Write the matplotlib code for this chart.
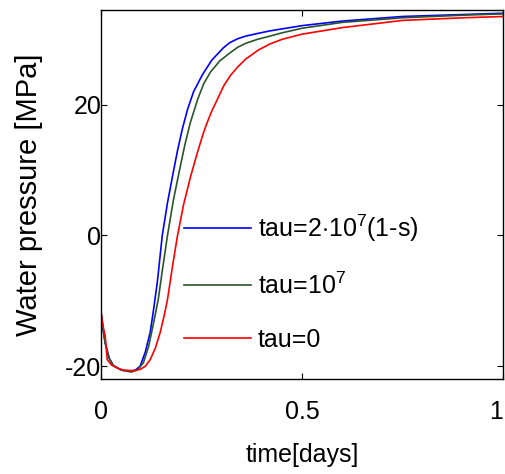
import matplotlib
matplotlib.use('Agg')
import matplotlib.pyplot as plt

plt.rcParams['font.family'] = ['Liberation Sans', 'DejaVu Sans']
plt.rcParams['mathtext.fontset'] = 'custom'
plt.rcParams['mathtext.rm'] = 'Liberation Sans'
plt.rcParams['axes.unicode_minus'] = False

# tau = 2e7 (1-s)
t_blue = [0, 0.005, 0.01, 0.02, 0.03, 0.05, 0.07, 0.085, 0.097, 0.11, 0.122, 0.13, 0.14,
          0.152, 0.165, 0.177, 0.19, 0.202, 0.215, 0.23, 0.252, 0.275, 0.304, 0.32, 0.34,
          0.36, 0.389, 0.42, 0.45, 0.5, 0.6, 0.75, 0.9, 1.0]
p_blue = [-12, -14.5, -16.5, -18.8, -19.9, -20.6, -20.8, -20.6, -20, -17.8, -14.8, -11.5, -7,
          0, 5, 8.9, 13, 16.3, 19.3, 22, 24.6, 26.8, 28.7, 29.5, 30.1,
          30.5, 30.9, 31.3, 31.6, 32.1, 32.8, 33.5, 33.8, 34.0]

# tau = 1e7
t_green = [0, 0.005, 0.01, 0.02, 0.03, 0.05, 0.075, 0.09, 0.105, 0.118, 0.13, 0.142, 0.153,
           0.165, 0.18, 0.195, 0.208, 0.222, 0.24, 0.255, 0.272, 0.295, 0.322, 0.34, 0.36,
           0.389, 0.42, 0.45, 0.5, 0.6, 0.75, 0.9, 1.0]
p_green = [-12, -14.5, -16.5, -18.8, -19.9, -20.6, -20.9, -20.6, -19.5, -17, -13.5, -9.8, -5,
           0, 5.5, 10, 13.8, 17.3, 20.8, 23.2, 25, 26.7, 28, 28.8, 29.4,
           30, 30.5, 31, 31.7, 32.6, 33.3, 33.7, 33.9]

# tau = 0
t_red = [0, 0.005, 0.01, 0.015, 0.025, 0.04, 0.055, 0.08, 0.097, 0.11, 0.122, 0.135, 0.147,
         0.157, 0.165, 0.178, 0.19, 0.205, 0.222, 0.24, 0.254, 0.262, 0.275, 0.289, 0.305,
         0.322, 0.34, 0.36, 0.392, 0.42, 0.45, 0.5, 0.6, 0.75, 0.9, 1.0]
p_red = [-12, -14, -15.4, -19, -19.8, -20.3, -20.6, -20.7, -20.5, -20, -19, -17.2, -14.8,
         -12.2, -9.8, -4.5, 0, 4.7, 8.9, 12.8, 15.6, 17, 19, 20.8, 22.9,
         24.5, 25.8, 27, 28.4, 29.3, 30, 30.8, 31.8, 32.9, 33.3, 33.5]

labels = ['tau=2$\\cdot$10$^7$(1-s)', 'tau=10$^7$', 'tau=0']

fig = plt.figure(figsize=(5.06, 4.74), dpi=100)
ax = fig.add_axes([0.2, 0.2, 0.794, 0.779])

ax.plot(t_blue, p_blue, color='#0000ff', lw=1.2, label=labels[0])
ax.plot(t_green, p_green, color='#2a552a', lw=1.2, label=labels[1])
ax.plot(t_red, p_red, color='#ff0000', lw=1.2, label=labels[2])

ax.set_xlim(0, 1)
ax.set_ylim(-22, 34.5)
ax.set_xticks([0, 0.5, 1])
ax.set_xticklabels(['0', '0.5', '1'])
ax.set_yticks([-20, 0, 20])
ax.tick_params(direction='in', length=4, labelsize=18, top=True, right=True)
ax.tick_params(axis='x', pad=15)
ax.tick_params(axis='y', pad=0)
# keep the last x tick label inside the picture
ax.get_xticklabels()[-1].set_horizontalalignment('right')
for s in ax.spines.values():
    s.set_linewidth(1.0)

ax.set_xlabel('time[days]', fontsize=18, labelpad=14)
ax.set_ylabel('Water pressure [MPa]', fontsize=21, labelpad=16)

ax.legend(loc='lower left', bbox_to_anchor=(0.15, 0.014), frameon=False, fontsize=18,
          handlelength=2.7, handletextpad=0.25, labelspacing=1.15)

fig.savefig('out.png', dpi=100)
